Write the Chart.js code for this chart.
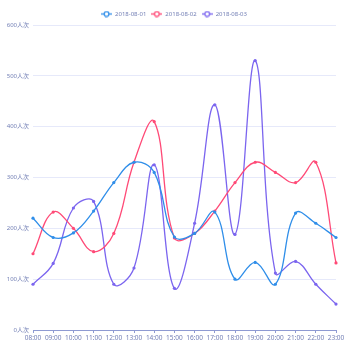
<!DOCTYPE html>
<html>
<head>
<meta charset="utf-8">
<script src="https://cdn.jsdelivr.net/npm/chart.js@4.4.1/dist/chart.umd.min.js"></script>
<style>
  html, body { margin: 0; padding: 0; background: #fff; }
  #wrap { width: 350px; height: 350px; }
</style>
</head>
<body>
<div id="wrap"><canvas id="myChart"></canvas></div>
<script>
const hours = ['08:00', '09:00', '10:00', '11:00', '12:00', '13:00', '14:00', '15:00',
  '16:00', '17:00', '18:00', '19:00', '20:00', '21:00', '22:00', '23:00'];
const seriesNames = ['2018-08-01', '2018-08-02', '2018-08-03'];
const day1 = [220, 182, 191, 234, 290, 330, 310, 183, 190, 232, 100, 133, 90, 230, 210, 182];
const day2 = [150, 232, 200, 154, 190, 330, 410, 181, 190, 234, 290, 330, 310, 290, 330, 132];
const day3 = [90, 131, 240, 253, 90, 122, 325, 82, 210, 443, 188, 530, 112, 135, 90, 51];
const yTicks = [0, 100, 200, 300, 400, 500, 600];

const colors = ['#2f8ee9', '#ff4a77', '#7b65ef'];
const labelColor = '#7480b6';
const fontFamily = "'Noto Sans', 'Noto Sans CJK SC', sans-serif";

// little "line through a hollow circle" marker for the legend
const legendMarker = (color) => {
  const c = document.createElement('canvas');
  c.width = 11;
  c.height = 7;
  const g = c.getContext('2d');
  g.strokeStyle = color;
  g.lineWidth = 1.3;
  g.beginPath();
  g.moveTo(0, 3.5);
  g.lineTo(11, 3.5);
  g.stroke();
  g.fillStyle = '#fff';
  g.beginPath();
  g.arc(5.5, 3.5, 2.4, 0, Math.PI * 2);
  g.fill();
  g.stroke();
  return c;
};

const series = [day1, day2, day3];
const datasets = series.map((values, i) => ({
  label: seriesNames[i],
  data: values,
  borderColor: colors[i],
  backgroundColor: colors[i],
  borderWidth: 1.3,
  pointRadius: 1.6,
  pointBorderWidth: 0,
  pointHoverRadius: 3,
  pointStyle: 'circle',
  legendMarker: legendMarker(colors[i]),
  tension: 0.4,
  fill: false
}));

// nudge the legend a bit right and down after layout
const legendShift = {
  id: 'legendShift',
  afterLayout(chart) {
    const lg = chart.legend;
    if (!lg) return;
    lg.left += 6;
    lg.right += 6;
    lg.top += 2;
    lg.bottom += 2;
  }
};

const ctx = document.getElementById('myChart').getContext('2d');

const myChart = new Chart(ctx, {
  type: 'line',
  data: {
    labels: hours,
    datasets: datasets
  },
  plugins: [legendShift],
  options: {
    responsive: true,
    maintainAspectRatio: false,
    animation: false,
    layout: {
      padding: { left: 0, right: 14, top: 4, bottom: 0 }
    },
    plugins: {
      legend: {
        position: 'top',
        labels: {
          usePointStyle: true,
          pointStyleWidth: 11,
          boxHeight: 7,
          padding: 5,
          color: labelColor,
          font: { family: fontFamily, size: 6 },
          generateLabels: (chart) => chart.data.datasets.map((ds, i) => ({
            text: ds.label,
            pointStyle: ds.legendMarker,
            fillStyle: ds.borderColor,
            strokeStyle: ds.borderColor,
            fontColor: labelColor,
            lineWidth: 0,
            hidden: !chart.isDatasetVisible(i),
            datasetIndex: i
          }))
        }
      },
      tooltip: { enabled: false }
    },
    scales: {
      x: {
        offset: false,
        grid: {
          drawOnChartArea: false,
          drawTicks: true,
          tickLength: 3,
          color: '#8e9ad2'
        },
        border: { display: true, color: '#8e9ad2', width: 1 },
        ticks: {
          color: labelColor,
          font: { family: fontFamily, size: 6.5 },
          maxRotation: 0,
          autoSkip: false,
          padding: 1
        },
        afterFit: (scale) => { scale.height = 20; }
      },
      y: {
        min: 0,
        max: 600,
        afterBuildTicks: (scale) => {
          scale.ticks = yTicks.map(v => ({ value: v }));
        },
        grid: {
          color: '#e6e9fa',
          drawTicks: false
        },
        border: { display: false },
        ticks: {
          color: labelColor,
          font: { family: fontFamily, size: 6 },
          padding: 4,
          callback: (v) => v + '人次'
        },
        afterFit: (scale) => { scale.width = 33; }
      }
    }
  }
});
</script>
</body>
</html>
